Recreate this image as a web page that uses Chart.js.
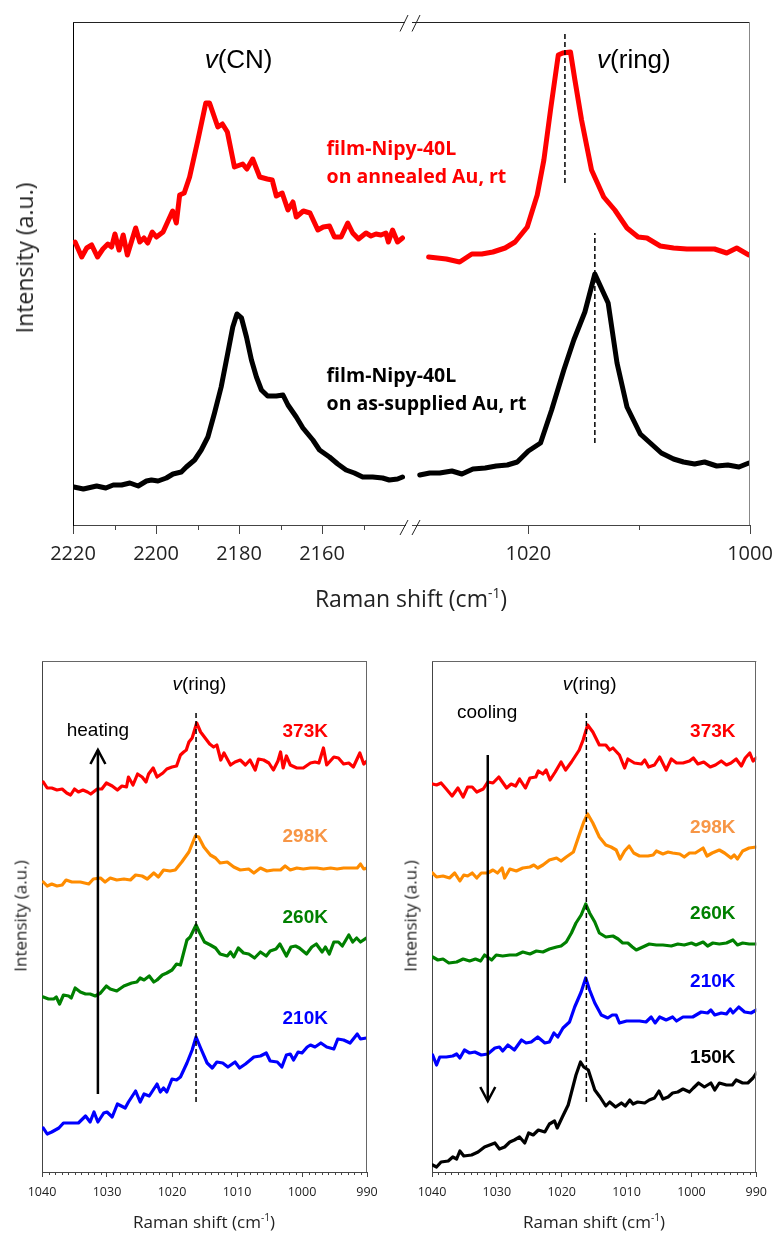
<!DOCTYPE html>
<html>
<head>
<meta charset="utf-8">
<script src="https://cdn.jsdelivr.net/npm/chart.js@4.4.0/dist/chart.umd.min.js"></script>
<style>
  body { margin: 0; background: #fff; width: 775px; height: 1233px; position: relative; overflow: hidden; font-family: "Open Sans", sans-serif; }
  canvas { position: absolute; }
  .lbl { position: absolute; white-space: nowrap; color: #222; transform: translate(-50%, -50%); }
  .rot { transform: translate(-50%, -50%) rotate(-90deg); }
  sup { font-size: 60%; }
</style>
</head>
<body>
<canvas id="topL" width="775" height="620" style="left:0;top:0"></canvas>
<canvas id="topR" width="800" height="620" style="left:0;top:0"></canvas>
<canvas id="heat" width="390" height="593" style="left:0;top:640px"></canvas>
<canvas id="cool" width="385" height="593" style="left:390px;top:640px"></canvas>

<div class="lbl rot" style="left:24px;top:258px;font-size:23px">Intensity (a.u.)</div>
<div class="lbl" style="left:411px;top:598px;font-size:23px">Raman shift (cm<sup>-1</sup>)</div>
<div class="lbl rot" style="left:20px;top:916px;font-size:17px">Intensity (a.u.)</div>
<div class="lbl" style="left:204px;top:1221px;font-size:17px">Raman shift (cm<sup>-1</sup>)</div>
<div class="lbl rot" style="left:410px;top:916px;font-size:17px">Intensity (a.u.)</div>
<div class="lbl" style="left:594px;top:1221px;font-size:17px">Raman shift (cm<sup>-1</sup>)</div>

<script>
// ---- top panel, v(CN) region ----
const cnAnnealedX = [2219.5,2217.9,2216.7,2215.5,2214.1,2212.8,2211.6,2210.7,2209.9,2208.9,2207.9,2206.9,2204.9,2203.9,2202.9,2202.0,2200.9,2199.9,2198.3,2196.0,2195.1,2194.3,2193.2,2191.9,2189.9,2188.0,2187.1,2185.1,2184.0,2182.8,2181.1,2179.1,2178.1,2176.7,2175.0,2173.2,2172.0,2171.0,2169.6,2168.2,2167.0,2166.2,2164.5,2162.9,2161.0,2159.7,2158.2,2157.0,2155.4,2153.8,2152.6,2151.2,2149.4,2148.2,2147.0,2145.8,2144.6,2144.0,2143.0,2141.8,2140.6];
const cnAnnealedY = [283,268,277,280,268,276,281,278,291,275,290,270,297,283,287,282,293,288,293,314,302,330,332,348,385,422,422,398,401,393,358,361,356,366,348,346,345,329,332,315,323,308,314,312,295,298,299,288,288,302,292,286,292,289,291,290,292,283,295,283,287];
const cnSuppliedX = [2219.8,2217.5,2214.3,2212.1,2210.3,2208.3,2206.3,2204.3,2202.3,2201.1,2199.5,2197.5,2195.9,2193.9,2192.7,2190.7,2189.1,2187.5,2185.9,2184.3,2182.7,2181.5,2180.5,2179.4,2178.2,2177.0,2175.8,2174.6,2173.1,2171.0,2169.4,2168.2,2166.2,2164.6,2162.2,2160.6,2158.2,2156.2,2154.2,2152.2,2150.2,2147.8,2145.4,2143.8,2141.8,2140.6];
const cnSuppliedY = [38,36,39,37,40,40,42,39,44,45,44,47,51,53,58,65,75,88,112,138,172,198,211,207,188,165,148,135,129,129,130,120,108,97,85,75,68,61,55,52,48,48,47,45,46,48];

// ---- top panel, v(ring) region ----
const ringAnnealedX = [1029.0,1027.4,1026.2,1025.1,1024.2,1023.2,1022.1,1021.2,1020.1,1019.2,1018.6,1018.0,1017.3,1016.9,1016.2,1015.8,1015.2,1014.3,1013.2,1012.2,1011.1,1010.1,1009.3,1008.1,1006.9,1005.7,1004.5,1003.2,1002.1,1001.2,1000.1];
const ringAnnealedY = [268,266,263,271,271,273,277,283,298,330,365,415,470,472,473,445,405,355,328,315,297,288,287,279,277,276,276,276,272,277,270];
const ringSuppliedX = [1029.8,1028.9,1028.0,1026.9,1026.0,1025.0,1023.9,1022.9,1021.9,1021.0,1020.0,1018.9,1017.9,1016.8,1015.9,1014.9,1014.0,1012.8,1012.0,1011.1,1009.9,1009.0,1008.0,1006.9,1006.0,1005.0,1004.1,1003.0,1002.0,1001.0,1000.1];
const ringSuppliedY = [50,52,52,54,51,56,57,59,60,63,74,82,115,155,185,213,251,222,162,118,91,82,72,66,63,61,63,59,60,58,62];
const topPeakX = [1016.7, 1014.0];
const topPeakSpan = [[342, 493], [82, 292]];

// ---- heating ----
const heat373X = [1039.8,1039.2,1038.5,1037.7,1036.9,1036.2,1035.6,1035.0,1034.4,1033.7,1033.0,1032.5,1031.5,1030.8,1030.1,1029.2,1028.4,1027.7,1027.0,1026.7,1026.0,1025.3,1024.6,1024.0,1023.6,1022.9,1022.3,1021.4,1020.8,1020.0,1019.3,1018.7,1018.2,1017.8,1017.4,1016.9,1016.2,1015.6,1014.9,1014.2,1013.6,1013.1,1012.5,1012.0,1011.0,1010.3,1009.5,1008.7,1008.0,1007.2,1006.7,1005.9,1005.1,1004.4,1003.7,1003.3,1002.9,1002.4,1001.8,1000.8,999.8,998.7,998.0,997.4,996.7,996.2,995.1,994.4,993.6,992.8,992.1,991.1,990.5,990.0];
const heat373Y = [390,384,384,382,383,379,377,383,380,382,380,378,383,383,389,386,382,386,385,395,387,398,395,390,398,404,395,399,403,405,406,417,420,422,430,434,449,440,434,428,425,427,412,419,407,410,412,407,412,402,413,412,409,402,411,420,404,416,407,404,404,409,410,409,424,407,415,414,408,409,405,419,408,411];
const heat298X = [1039.8,1039.2,1038.5,1037.7,1036.9,1036.3,1035.4,1034.1,1032.8,1032.1,1031.0,1030.3,1029.5,1028.5,1027.4,1026.4,1025.6,1024.6,1023.8,1022.8,1022.1,1021.3,1020.3,1019.5,1018.5,1017.4,1016.4,1015.9,1015.1,1014.1,1013.3,1012.6,1011.5,1010.5,1009.5,1008.2,1007.4,1006.4,1005.4,1004.4,1003.3,1002.6,1001.8,1000.8,999.8,998.7,997.7,996.7,995.6,994.6,993.6,992.6,991.5,991.0,990.5,990.0];
const heat298Y = [290,286,288,286,287,292,290,290,288,293,294,290,294,292,293,292,297,296,293,299,295,302,301,302,310,320,336,335,325,317,314,309,310,305,302,303,299,304,301,302,302,306,302,304,303,304,304,303,304,303,304,304,304,308,303,304];
const heat260X = [1039.8,1039.0,1038.2,1037.8,1037.3,1036.7,1035.9,1035.5,1034.9,1034.1,1033.3,1032.6,1031.8,1031.0,1030.1,1029.5,1028.5,1027.4,1026.2,1025.4,1024.9,1024.3,1023.5,1022.8,1022.3,1021.5,1020.8,1020.0,1019.3,1018.7,1018.3,1017.7,1017.2,1016.3,1015.8,1015.0,1014.1,1013.3,1012.6,1011.5,1011.0,1010.5,1009.8,1009.0,1008.2,1007.3,1006.4,1005.5,1004.9,1004.0,1003.4,1002.4,1001.7,1001.0,1000.4,999.3,998.5,997.8,996.9,996.4,995.8,995.1,994.4,993.8,992.8,992.2,991.6,991.0,990.1];
const heat260Y = [175,173,173,175,168,177,176,174,184,180,178,178,176,179,186,183,181,186,189,190,194,192,196,190,192,197,199,202,208,207,217,232,235,247,240,230,227,224,218,216,220,215,224,219,218,214,220,216,221,223,228,216,225,226,224,218,225,228,220,225,218,230,230,226,237,230,234,230,234];
const heat210X = [1039.8,1039.2,1038.5,1037.4,1036.7,1035.6,1034.4,1033.3,1032.6,1032.0,1031.4,1030.5,1030.0,1029.2,1028.4,1027.2,1026.7,1025.6,1024.9,1024.3,1023.5,1022.3,1021.8,1021.3,1020.8,1020.0,1019.3,1018.7,1017.7,1016.9,1016.3,1015.6,1014.6,1013.8,1013.1,1012.2,1011.4,1010.3,1009.6,1008.7,1007.4,1006.4,1005.5,1004.9,1003.8,1003.1,1002.4,1001.8,1001.3,1000.6,1000.0,999.2,998.7,998.0,997.1,996.2,995.1,994.5,993.6,992.6,991.5,991.0,990.1];
const heat210Y = [44,38,40,44,49,49,49,56,50,60,50,59,60,55,68,64,70,81,70,78,76,88,80,84,80,93,92,95,109,122,135,124,109,104,110,109,105,110,104,108,115,116,119,111,110,105,117,118,112,120,119,125,127,125,129,125,123,133,132,129,138,133,134];

// ---- cooling ----
const cool373X = [1039.9,1039.3,1038.6,1037.8,1036.9,1036.0,1035.2,1034.5,1033.8,1033.1,1032.1,1031.4,1030.6,1029.7,1028.5,1027.8,1027.1,1026.5,1025.6,1024.9,1024.0,1023.6,1022.9,1022.4,1021.8,1021.0,1020.1,1019.4,1018.5,1017.3,1016.7,1016.0,1015.2,1014.2,1013.2,1012.6,1012.1,1011.1,1010.3,1009.8,1008.8,1007.7,1007.2,1006.6,1005.7,1004.9,1003.9,1003.1,1002.3,1001.3,1000.3,999.7,999.0,998.1,997.1,996.3,995.4,994.6,993.9,993.1,992.3,991.7,991.0,990.5,990.0];
const cool373Y = [388,387,389,383,376,384,375,385,385,380,383,390,389,395,384,388,386,393,384,394,395,401,398,402,392,400,410,402,410,422,432,447,440,427,427,422,424,417,404,413,409,408,412,405,407,415,402,413,409,409,411,414,408,410,405,407,411,407,409,413,406,414,419,411,414];
const cool298X = [1039.9,1039.3,1038.3,1037.3,1036.5,1035.7,1035.1,1034.5,1033.8,1033.1,1032.4,1031.4,1030.6,1029.9,1029.2,1028.8,1028.0,1027.0,1026.0,1024.9,1024.3,1023.7,1022.9,1021.9,1020.8,1020.1,1019.3,1018.2,1017.2,1016.6,1016.0,1015.2,1014.2,1013.2,1012.4,1011.6,1011.0,1010.3,1009.6,1008.9,1008.0,1006.7,1005.9,1005.4,1004.4,1003.6,1002.9,1001.8,1001.1,1000.3,999.4,998.2,997.6,996.8,995.7,994.9,993.9,993.4,992.9,992.1,991.1,990.0];
const cool298Y = [299,295,296,294,299,291,297,296,299,294,299,299,302,299,304,294,303,301,304,305,307,304,307,312,314,311,315,320,339,350,358,349,335,327,325,322,313,321,326,319,316,316,317,321,318,320,319,318,315,319,319,324,316,319,322,319,314,317,313,321,324,325];
const cool260X = [1039.9,1039.1,1038.3,1037.4,1036.2,1035.2,1034.2,1033.3,1032.5,1031.9,1030.8,1030.1,1029.1,1028.0,1027.0,1026.0,1024.9,1023.9,1022.9,1021.9,1020.8,1020.1,1019.3,1018.5,1017.8,1017.0,1016.3,1015.7,1014.9,1014.2,1013.2,1012.1,1011.3,1010.6,1009.8,1009.1,1008.5,1007.5,1006.5,1005.4,1004.4,1003.1,1002.1,1001.1,1000.0,999.3,998.2,997.5,996.7,995.7,994.6,993.6,992.9,992.1,991.1,990.0];
const cool260Y = [215,212,213,209,210,213,211,213,211,217,212,217,216,217,217,220,218,221,220,223,225,226,230,239,249,257,268,259,250,239,235,236,233,229,229,225,222,225,228,227,227,226,228,227,229,227,230,226,229,228,229,232,227,229,228,228];
const cool210X = [1039.9,1039.3,1038.8,1037.8,1036.8,1036.2,1035.7,1035.0,1034.2,1033.4,1032.4,1031.4,1030.3,1029.6,1029.1,1028.3,1027.3,1026.2,1025.5,1024.7,1023.7,1022.6,1021.9,1021.2,1020.6,1019.8,1018.8,1018.0,1017.0,1016.3,1015.7,1014.9,1013.9,1012.9,1012.2,1011.6,1011.1,1010.0,1009.0,1008.0,1007.0,1006.2,1005.6,1004.9,1003.9,1002.9,1002.3,1001.3,999.8,998.5,997.5,997.0,996.4,995.4,994.6,994.0,993.6,992.7,991.8,990.8,990.0];
const cool210Y = [117,107,115,115,116,118,114,122,119,120,117,118,124,125,121,127,122,132,129,130,135,129,130,139,135,144,150,165,180,194,182,169,157,154,157,157,149,151,151,151,150,155,149,155,152,155,151,155,155,160,159,162,157,159,158,163,159,165,160,159,162];
const cool150X = [1039.9,1039.3,1038.6,1037.5,1036.8,1036.2,1035.7,1035.1,1033.9,1032.9,1031.9,1031.1,1030.3,1029.6,1028.8,1028.0,1027.3,1026.5,1025.7,1025.1,1024.4,1023.6,1022.6,1021.9,1021.1,1020.7,1019.9,1019.0,1018.4,1017.8,1017.1,1016.6,1015.9,1015.4,1014.9,1014.1,1013.2,1012.6,1011.7,1010.8,1010.2,1009.5,1009.0,1008.3,1007.2,1006.5,1005.7,1005.0,1004.4,1003.6,1002.9,1002.1,1001.3,1000.3,999.7,998.9,998.0,997.0,996.4,995.7,994.6,993.7,993.1,992.1,991.3,990.5,990.0];
const cool150Y = [7,5,10,11,15,13,21,16,17,20,25,27,29,23,25,30,32,35,29,39,37,42,40,48,51,44,55,67,82,97,110,105,102,92,82,75,66,70,65,69,66,72,68,70,69,72,74,81,73,75,79,80,83,80,84,89,85,89,82,89,87,87,92,89,89,94,99];

// peak markers and arrows of the lower panels
const heatPeakX = 1016.3, coolPeakX = 1016.2, lowPeakSpan = [70, 461];
const arrowX = 1031.4;
const heatArrow = [78, 422];
const coolArrow = [417, 71];

// ticks
const cnTicks = [2220, 2200, 2180, 2160];
const cnMinor = [2210, 2190, 2170, 2150];
const ringTicks = [1020, 1000];
const ringMinor = [1010];
const lowTicks = [1040, 1030, 1020, 1010, 1000, 990];
const lowMinor = [];
for (let v = 991; v < 1040; v++) if (v % 10) lowMinor.push(v);

const RED = '#ff0000', ORANGE = '#ff8c00', GREEN = '#008000', BLUE = '#0000ff';

const zip = (xs, ys) => xs.map((x, i) => ({ x, y: ys[i] }));
function trace(xs, ys, color, width) {
  return { data: zip(xs, ys), borderColor: color, borderWidth: width, pointRadius: 0, tension: 0,
           borderJoinStyle: 'round', borderCapStyle: 'round' };
}
function dashed(x, span) {
  return { data: [{ x, y: span[0] }, { x, y: span[1] }], borderColor: '#000', borderWidth: 1.5,
           borderDash: [5, 3], pointRadius: 0 };
}
function arrow(x, span) {
  return { data: [{ x, y: span[0] }, { x, y: span[1] }], borderColor: '#000', borderWidth: 2.5,
           pointRadius: 0, arrowHead: true };
}

// extra drawing for each canvas (frame, minor ticks, break marks, labels)
const decorCfg = {};
const decor = {
  id: 'decor',
  afterDatasetsDraw(chart) {
    const ctx = chart.ctx;
    chart.data.datasets.forEach((ds, i) => {
      if (!ds.arrowHead) return;
      const pts = chart.getDatasetMeta(i).data;
      const tip = pts[pts.length - 1], prev = pts[pts.length - 2];
      const dir = Math.sign(tip.y - prev.y);
      ctx.save();
      ctx.strokeStyle = '#000';
      ctx.lineWidth = 2.5;
      ctx.beginPath();
      ctx.moveTo(tip.x - 7.5, tip.y - dir * 14);
      ctx.lineTo(tip.x, tip.y);
      ctx.lineTo(tip.x + 7.5, tip.y - dir * 14);
      ctx.stroke();
      ctx.restore();
    });
  },
  afterDraw(chart) {
    const d = decorCfg[chart.canvas.id];
    if (!d) return;
    const { ctx, chartArea: a, scales: { x, y } } = chart;
    const seg = (x0, y0, x1, y1) => { ctx.beginPath(); ctx.moveTo(x0, y0); ctx.lineTo(x1, y1); ctx.stroke(); };
    ctx.save();
    ctx.lineWidth = 1;
    if (d.frame.top) { ctx.strokeStyle = d.frame.top; seg(a.left, Math.round(a.top) + 0.5, a.right, Math.round(a.top) + 0.5); }
    if (d.frame.right) { ctx.strokeStyle = d.frame.right; seg(Math.round(a.right) - 0.5, a.top, Math.round(a.right) - 0.5, a.bottom); }
    ctx.strokeStyle = '#444';
    d.minor.values.forEach(v => {
      const px = Math.round(x.getPixelForValue(v)) + 0.5;
      seg(px, a.bottom, px, a.bottom + d.minor.len);
    });
    if (d.breaks) {
      ctx.strokeStyle = '#222';
      [[-12, -4], [0, 8]].forEach(([x0, x1]) => {
        seg(a.left + x0, a.top + 9.5, a.left + x1, a.top - 7);
        seg(a.left + x0, a.bottom + 10, a.left + x1, a.bottom - 5);
      });
    }
    ctx.textBaseline = 'alphabetic';
    ctx.textAlign = 'left';
    d.texts.forEach(t => {
      const fonts = t.parts.map(p => `${p[1] || 'normal'} ${t.weight || 'normal'} ${t.size}px ${t.family}`);
      const widths = t.parts.map((p, i) => { ctx.font = fonts[i]; return ctx.measureText(p[0]).width; });
      const total = widths.reduce((s, w) => s + w, 0);
      let cx = x.getPixelForValue(t.x);
      if (t.align === 'center') cx -= total / 2;
      const cy = y.getPixelForValue(t.y);
      ctx.fillStyle = t.color;
      t.parts.forEach((p, i) => { ctx.font = fonts[i]; ctx.fillText(p[0], cx, cy); cx += widths[i]; });
    });
    ctx.restore();
  }
};

function xAxis(min, max, major, o) {
  return {
    type: 'linear', reverse: true, min, max,
    afterBuildTicks: s => { s.ticks = major.map(v => ({ value: v })); },
    afterFit: s => { s.height = o.h; },
    ticks: { autoSkip: false, maxRotation: 0, padding: o.pad, color: '#222',
             font: { family: 'Open Sans', size: o.fs }, callback: v => String(v) },
    grid: { drawOnChartArea: false, drawTicks: true, tickLength: o.tl, tickColor: '#444', tickWidth: 1 },
    border: { color: '#444', width: 1 }
  };
}
function yAxis(max, w, show, color) {
  return {
    min: 0, max, display: show,
    afterFit: s => { s.width = w; },
    ticks: { display: false }, grid: { display: false },
    border: { color, width: 1 }
  };
}
function makeChart(id, datasets, x, y, pad, d) {
  decorCfg[id] = d;
  return new Chart(document.getElementById(id), {
    type: 'line',
    data: { datasets },
    options: {
      responsive: false, animation: false, events: [],
      layout: { padding: pad },
      plugins: { legend: { display: false }, tooltip: { enabled: false } },
      scales: { x, y }
    },
    plugins: [decor]
  });
}

const arial = '"Liberation Sans"';
const open = '"Open Sans"';
const topAxisOpts = { h: 95, pad: 8, fs: 20, tl: 9 };
const lowAxisOpts = { h: 61, pad: 8, fs: 12.5, tl: 5 };

// top-left: v(CN)
makeChart('topL',
  [trace(cnAnnealedX, cnAnnealedY, RED, 5), trace(cnSuppliedX, cnSuppliedY, '#000', 5)],
  xAxis(2140, 2220, cnTicks, topAxisOpts),
  yAxis(503, 73, true, '#000'),
  { left: 0, top: 22, right: 370, bottom: 0 },
  { frame: { top: '#222' }, minor: { values: cnMinor, len: 5 }, breaks: false,
    texts: [
      { x: 2180.1, y: 457, parts: [['v', 'italic'], ['(CN)']], size: 26, family: arial, color: '#000', align: 'center' },
      { x: 2158.9, y: 370, parts: [['film-Nipy-40L']], size: 19.5, weight: 'bold', family: open, color: RED },
      { x: 2158.9, y: 342, parts: [['on annealed Au, rt']], size: 19.5, weight: 'bold', family: open, color: RED },
      { x: 2158.9, y: 143, parts: [['film-Nipy-40L']], size: 19.5, weight: 'bold', family: open, color: '#000' },
      { x: 2158.9, y: 115, parts: [['on as-supplied Au, rt']], size: 19.5, weight: 'bold', family: open, color: '#000' }
    ] });

// top-right: v(ring)  (canvas is wider than the page so the 1000 label has room)
makeChart('topR',
  [dashed(topPeakX[0], topPeakSpan[0]), dashed(topPeakX[1], topPeakSpan[1]),
   trace(ringAnnealedX, ringAnnealedY, RED, 5), trace(ringSuppliedX, ringSuppliedY, '#000', 5)],
  xAxis(1000, 1030.5, ringTicks, topAxisOpts),
  yAxis(503, 0, false, '#000'),
  { left: 412, top: 22, right: 50, bottom: 0 },
  { frame: { top: '#222', right: '#888' }, minor: { values: ringMinor, len: 5 }, breaks: true,
    texts: [
      { x: 1013.8, y: 457, parts: [['v', 'italic'], ['(ring)']], size: 26, family: arial, color: '#000' }
    ] });

// bottom-left: heating
makeChart('heat',
  [dashed(heatPeakX, lowPeakSpan), arrow(arrowX, heatArrow),
   trace(heat373X, heat373Y, RED, 3.2), trace(heat298X, heat298Y, ORANGE, 3.2),
   trace(heat260X, heat260Y, GREEN, 3.2), trace(heat210X, heat210Y, BLUE, 3.2)],
  xAxis(990, 1040, lowTicks, lowAxisOpts),
  yAxis(511, 42, true, '#444'),
  { left: 0, top: 21, right: 23, bottom: 0 },
  { frame: { top: '#666', right: '#666' }, minor: { values: lowMinor, len: 3 }, breaks: false,
    texts: [
      { x: 1015.8, y: 482, parts: [['v', 'italic'], ['(ring)']], size: 19, family: arial, color: '#000', align: 'center' },
      { x: 1031.4, y: 436, parts: [['heating']], size: 19, family: arial, color: '#000', align: 'center' },
      { x: 999.5, y: 435, parts: [['373K']], size: 19, weight: 'bold', family: arial, color: RED, align: 'center' },
      { x: 999.5, y: 330, parts: [['298K']], size: 19, weight: 'bold', family: arial, color: '#f79646', align: 'center' },
      { x: 999.5, y: 249, parts: [['260K']], size: 19, weight: 'bold', family: arial, color: GREEN, align: 'center' },
      { x: 999.5, y: 148, parts: [['210K']], size: 19, weight: 'bold', family: arial, color: BLUE, align: 'center' }
    ] });

// bottom-right: cooling
makeChart('cool',
  [dashed(coolPeakX, lowPeakSpan), arrow(arrowX, coolArrow),
   trace(cool373X, cool373Y, RED, 3.2), trace(cool298X, cool298Y, ORANGE, 3.2),
   trace(cool260X, cool260Y, GREEN, 3.2), trace(cool210X, cool210Y, BLUE, 3.2),
   trace(cool150X, cool150Y, '#000', 3.2)],
  xAxis(990, 1040, lowTicks, lowAxisOpts),
  yAxis(511, 42, true, '#444'),
  { left: 0, top: 21, right: 18, bottom: 0 },
  { frame: { top: '#666', right: '#666' }, minor: { values: lowMinor, len: 3 }, breaks: false,
    texts: [
      { x: 1015.7, y: 482, parts: [['v', 'italic'], ['(ring)']], size: 19, family: arial, color: '#000', align: 'center' },
      { x: 1031.5, y: 454, parts: [['cooling']], size: 19, family: arial, color: '#000', align: 'center' },
      { x: 996.7, y: 435, parts: [['373K']], size: 19, weight: 'bold', family: arial, color: RED, align: 'center' },
      { x: 996.7, y: 339, parts: [['298K']], size: 19, weight: 'bold', family: arial, color: '#f79646', align: 'center' },
      { x: 996.7, y: 253, parts: [['260K']], size: 19, weight: 'bold', family: arial, color: GREEN, align: 'center' },
      { x: 996.7, y: 185, parts: [['210K']], size: 19, weight: 'bold', family: arial, color: BLUE, align: 'center' },
      { x: 996.7, y: 109, parts: [['150K']], size: 19, weight: 'bold', family: arial, color: '#000', align: 'center' }
    ] });
</script>
</body>
</html>
